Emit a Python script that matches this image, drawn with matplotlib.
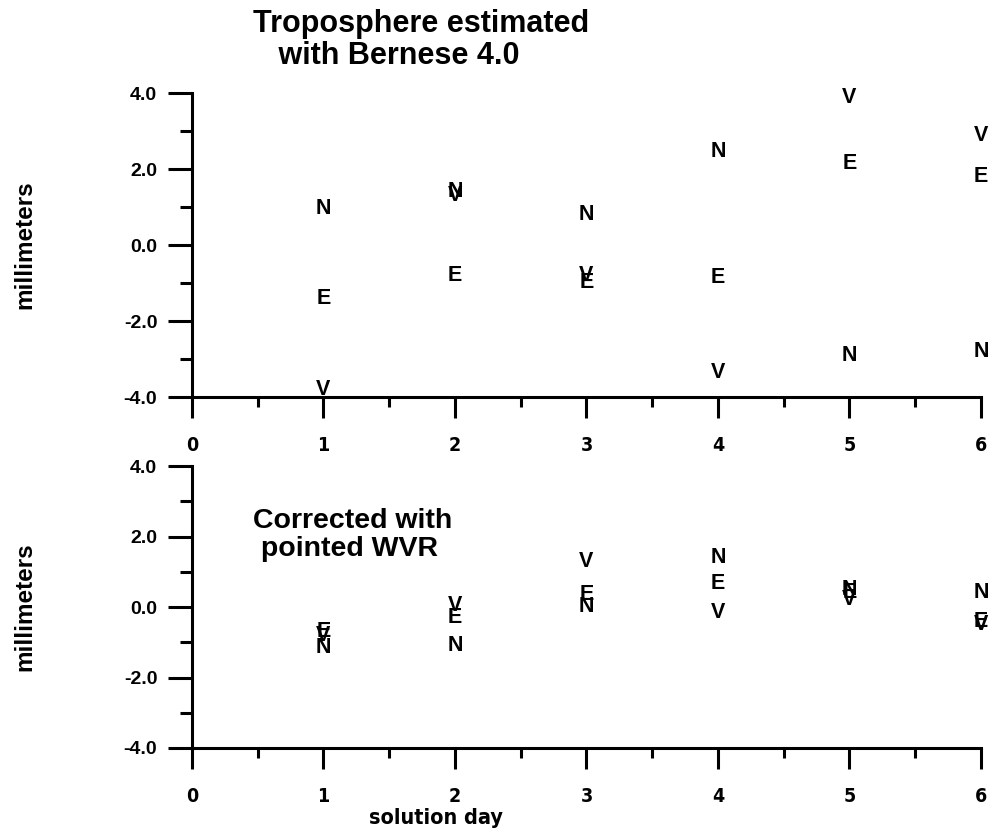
import matplotlib
matplotlib.use("Agg")
import matplotlib.pyplot as plt
from matplotlib.ticker import MultipleLocator, FixedLocator
from matplotlib import font_manager
from matplotlib.font_manager import FontProperties

plt.rcParams['font.family'] = ['Liberation Sans', 'DejaVu Sans']
plt.rcParams['font.weight'] = 'bold'

days = [1, 2, 3, 4, 5, 6]
top_N = [0.95, 1.4, 0.8, 2.45, -2.9, -2.8]
top_E = [-1.4, -0.8, -1.0, -0.85, 2.15, 1.8]
top_V = [-3.8, 1.3, -0.8, -3.35, 3.87, 2.88]
bot_N = [-1.15, -1.1, 0.0, 1.4, 0.5, 0.42]
bot_E = [-0.7, -0.3, 0.35, 0.67, 0.4, -0.4]
bot_V = [-0.8, 0.05, 1.3, -0.15, 0.2, -0.5]
xticks = [0, 1, 2, 3, 4, 5, 6]
yticks = [-4.0, -2.0, 0.0, 2.0, 4.0]

# find a condensed bold font if one is installed
cond_path = None
prefs = ['LiberationSansNarrow-Bold', 'DejaVuSansCondensed-Bold', 'Condensed-Bold', 'Condensed_Bold',
         'CondensedBold', 'Narrow-Bold']
files = [f.fname for f in font_manager.fontManager.ttflist]
for p in prefs:
    hits = [f for f in files if p.lower() in f.lower() and 'italic' not in f.lower() and 'oblique' not in f.lower()]
    if hits:
        cond_path = hits[0]
        break


def narrow_fp(size):
    if cond_path:
        return FontProperties(fname=cond_path, size=size)
    return FontProperties(family=['Liberation Sans', 'DejaVu Sans'], weight='bold', size=size - 1)


W, H = 995, 835
fig = plt.figure(figsize=(W / 100, H / 100), dpi=100)


def px_axes(l, r, t, b):
    return fig.add_axes([l / W, 1 - b / H, (r - l) / W, (b - t) / H])


ax1 = px_axes(192, 981, 93, 397)
ax2 = px_axes(192, 981, 466, 748)

for ax, N, E, V in ((ax1, top_N, top_E, top_V), (ax2, bot_N, bot_E, bot_V)):
    ax.set_xlim(0, 6)
    ax.set_ylim(-4, 4)
    for s in ('top', 'right'):
        ax.spines[s].set_visible(False)
    for s in ('left', 'bottom'):
        ax.spines[s].set_linewidth(2.2)
    ax.xaxis.set_major_locator(FixedLocator(xticks))
    ax.xaxis.set_minor_locator(MultipleLocator(0.5))
    ax.yaxis.set_major_locator(FixedLocator(yticks))
    ax.yaxis.set_minor_locator(MultipleLocator(1.0))
    ax.tick_params(axis='x', which='major', direction='out', length=15, width=2.2, pad=13)
    ax.tick_params(axis='x', which='minor', direction='out', length=7, width=2.2)
    ax.tick_params(axis='y', which='major', direction='out', length=17, width=2.2, pad=8)
    ax.tick_params(axis='y', which='minor', direction='out', length=9, width=2.2)
    ax.set_xticklabels([str(v) for v in xticks], fontproperties=narrow_fp(14))
    ax.set_yticklabels([f"{v:.1f}" for v in yticks], fontweight='bold', fontsize=14)
    ax.set_ylabel('millimeters', fontsize=17.5, fontweight='bold')
    ax.yaxis.set_label_coords(-156 / 789, 0.5)
    for x, n, e, v in zip(days, N, E, V):
        for lab, y in (('N', n), ('E', e), ('V', v)):
            ax.text(x, y, lab, ha='center', va='center', fontsize=15.5,
                    fontweight='bold', clip_on=False, zorder=5)

fig.text(253 / W, 1 - 40 / H, 'Troposphere estimated\n   with Bernese 4.0', ha='left', va='center',
         multialignment='left', fontsize=22, fontweight='bold', linespacing=1.08)
fig.text(253 / W, 1 - 535 / H, 'Corrected with\n pointed WVR', ha='left', va='center',
         multialignment='left', fontsize=20.5, fontweight='bold', linespacing=1.15)
fig.text(436 / W, 1 - 818 / H, 'solution day', ha='center', va='center',
         fontproperties=narrow_fp(15.5))

fig.savefig('out.png', dpi=100, facecolor='white')
